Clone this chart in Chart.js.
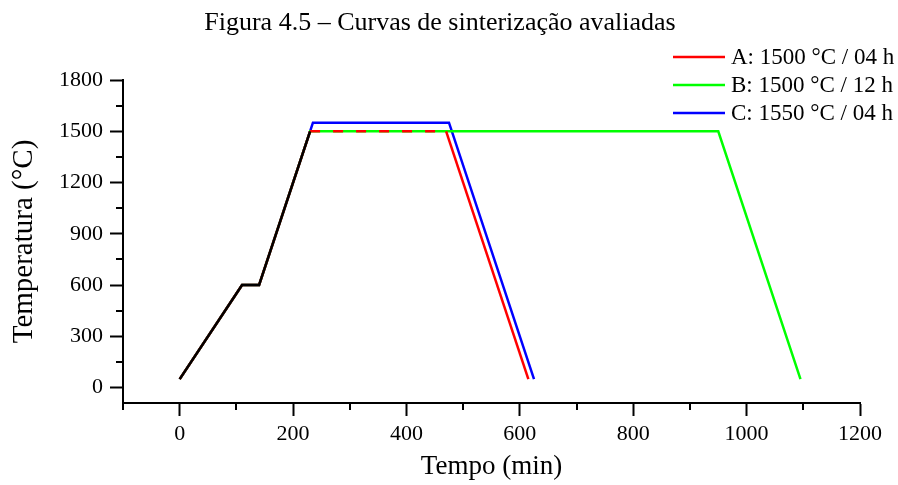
<!DOCTYPE html>
<html>
<head>
<meta charset="utf-8">
<script src="https://cdn.jsdelivr.net/npm/chart.js@4.4.1/dist/chart.umd.min.js"></script>
<style>
  body { margin: 0; background: #fff; }
  #wrap { width: 898px; height: 485px; }
</style>
</head>
<body>
<div id="wrap"><canvas id="chart"></canvas></div>
<script>
// Common heating ramp (drawn in black on top)
const rampTime = [0, 110, 140, 230];
const rampTemp = [50, 600, 600, 1500];

// Curves A, B, C
const labelA = 'A: 1500 °C / 04 h';
const timeA = [0, 110, 140, 230, 470, 615];
const tempA = [50, 600, 600, 1500, 1500, 50];

const labelB = 'B: 1500 °C / 12 h';
const timeB = [0, 110, 140, 230, 950, 1095];
const tempB = [50, 600, 600, 1500, 1500, 50];

const labelC = 'C: 1550 °C / 04 h';
const timeC = [0, 110, 140, 230, 235, 475, 625];
const tempC = [50, 600, 600, 1500, 1550, 1550, 50];

const xTicks = [0, 200, 400, 600, 800, 1000, 1200];
const xMinor = [-100, 100, 300, 500, 700, 900, 1100];
const yTicks = [0, 300, 600, 900, 1200, 1500, 1800];
const yMinor = [150, 450, 750, 1050, 1350, 1650];

const titleText = 'Figura 4.5 – Curvas de sinterização avaliadas';
const FONT = "'Liberation Serif', 'Times New Roman', serif";

const toPoints = (xs, ys) => xs.map((x, i) => ({ x: x, y: ys[i] }));

// red plateau is dashed so the green line shows through
const plateauDash = ctx =>
    (ctx.p0.parsed.y === 1500 && ctx.p1.parsed.y === 1500) ? [10, 13] : undefined;

const lineStyle = { pointRadius: 0, borderWidth: 2.5, tension: 0, fill: false, borderJoinStyle: 'miter' };

const extras = {
    id: 'extras',
    afterDraw(chart) {
        const { ctx, chartArea, scales } = chart;
        ctx.save();
        ctx.strokeStyle = '#000';
        ctx.lineWidth = 2;

        // minor ticks
        yMinor.forEach(v => {
            const py = Math.round(scales.y.getPixelForValue(v));
            ctx.beginPath();
            ctx.moveTo(chartArea.left - 7, py);
            ctx.lineTo(chartArea.left, py);
            ctx.stroke();
        });
        xMinor.forEach(v => {
            const px = Math.round(scales.x.getPixelForValue(v));
            ctx.beginPath();
            ctx.moveTo(px, chartArea.bottom);
            ctx.lineTo(px, chartArea.bottom + 7);
            ctx.stroke();
        });

        // title
        ctx.fillStyle = '#000';
        ctx.font = '26px ' + FONT;
        ctx.textAlign = 'center';
        ctx.textBaseline = 'alphabetic';
        ctx.fillText(titleText, 440, 30);

        // legend
        ctx.font = '23px ' + FONT;
        ctx.textAlign = 'left';
        ctx.textBaseline = 'middle';
        const rows = chart.data.datasets.filter(d => d.label);
        rows.forEach((d, i) => {
            const y = 57 + i * 28;
            ctx.strokeStyle = d.borderColor;
            ctx.lineWidth = 2.5;
            ctx.beginPath();
            ctx.moveTo(673, y);
            ctx.lineTo(725, y);
            ctx.stroke();
            ctx.fillText(d.label, 731, y + 1);
        });
        ctx.restore();
    }
};

new Chart(document.getElementById('chart'), {
    type: 'line',
    data: {
        datasets: [
            { ...lineStyle, data: toPoints(rampTime, rampTemp), borderColor: '#000000' },
            { ...lineStyle, label: labelA, data: toPoints(timeA, tempA), borderColor: '#ff0000',
              segment: { borderDash: plateauDash } },
            { ...lineStyle, label: labelB, data: toPoints(timeB, tempB), borderColor: '#00ff00' },
            { ...lineStyle, label: labelC, data: toPoints(timeC, tempC), borderColor: '#0000ff' }
        ]
    },
    options: {
        responsive: true,
        maintainAspectRatio: false,
        animation: false,
        layout: { padding: { top: 80, right: 38, left: 0, bottom: 0 } },
        plugins: {
            legend: { display: false },
            tooltip: { enabled: false },
            title: { display: false }
        },
        scales: {
            x: {
                type: 'linear',
                min: -100,
                max: 1200,
                afterBuildTicks: axis => { axis.ticks = xTicks.map(v => ({ value: v })); },
                afterFit: scale => { scale.height = 82; },
                grid: { drawOnChartArea: false, tickLength: 13, tickWidth: 2, tickColor: '#000' },
                border: { color: '#000', width: 2 },
                ticks: { color: '#000', font: { family: FONT, size: 22 }, padding: 5, maxRotation: 0,
                         callback: v => String(v) },
                title: { display: true, text: 'Tempo (min)', color: '#000',
                         font: { family: FONT, size: 27 }, padding: { top: 2, bottom: 2 } }
            },
            y: {
                min: -90,
                max: 1800,
                afterBuildTicks: axis => { axis.ticks = yTicks.map(v => ({ value: v })); },
                afterFit: scale => { scale.width = 123; },
                grid: { drawOnChartArea: false, tickLength: 13, tickWidth: 2, tickColor: '#000' },
                border: { color: '#000', width: 2 },
                ticks: { color: '#000', font: { family: FONT, size: 22 }, padding: 7,
                         callback: v => String(v) },
                title: { display: true, text: 'Temperatura (°C)', color: '#000',
                         font: { family: FONT, size: 29 }, padding: { top: 7, bottom: 7 } }
            }
        }
    },
    plugins: [extras]
});
</script>
</body>
</html>
